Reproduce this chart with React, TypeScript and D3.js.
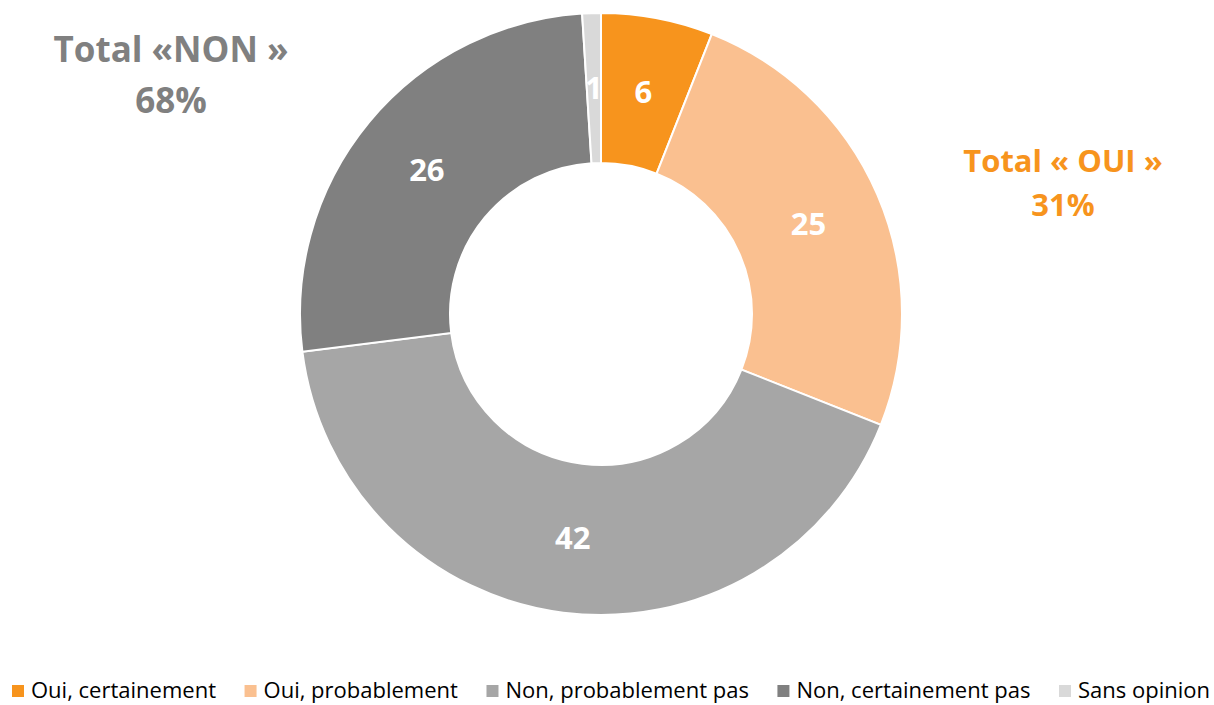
import React, { useEffect, useRef } from "react";
import * as d3 from "d3";

const categories = [
  "Oui, certainement",
  "Oui, probablement",
  "Non, probablement pas",
  "Non, certainement pas",
  "Sans opinion",
];
const values = [6, 25, 42, 26, 1];
const colors = ["#F7941D", "#FAC090", "#A6A6A6", "#808080", "#D9D9D9"];
const totalNon = ["Total «NON »", "68%"];
const totalOui = ["Total « OUI »", "31%"];

const W = 1214;
const H = 705;
const FONT = "'Open Sans', sans-serif";

export default function App() {
  const ref = useRef<SVGSVGElement>(null);

  useEffect(() => {
    const svg = d3.select(ref.current);
    svg.selectAll("*").remove();

    const cx = 601;
    const cy = 314;
    const outer = 301;
    const inner = 151;

    const pie = d3.pie<number>().sort(null).value((d) => d);
    const arcs = pie(values);
    const arc = d3.arc<d3.PieArcDatum<number>>().innerRadius(inner).outerRadius(outer);

    const g = svg.append("g").attr("transform", `translate(${cx},${cy})`);
    g.selectAll("path")
      .data(arcs)
      .enter()
      .append("path")
      .attr("d", arc)
      .attr("fill", (d, i) => colors[i])
      .attr("stroke", "#fff")
      .attr("stroke-width", 2);

    g.selectAll("text")
      .data(arcs)
      .enter()
      .append("text")
      .attr("x", (d) => arc.centroid(d)[0])
      .attr("y", (d) => arc.centroid(d)[1])
      .attr("dy", "0.36em")
      .attr("text-anchor", "middle")
      .style("font-family", FONT)
      .style("font-weight", "bold")
      .style("font-size", "31px")
      .style("fill", "#fff")
      .text((d) => d.data);

    // totals
    const non = svg.append("text")
      .attr("text-anchor", "middle")
      .style("font-family", FONT)
      .style("font-weight", "bold")
      .style("font-size", "35px")
      .style("fill", "#808080");
    non.append("tspan").attr("x", 171).attr("y", 62).text(totalNon[0]);
    non.append("tspan").attr("x", 171).attr("y", 113).text(totalNon[1]);

    const oui = svg.append("text")
      .attr("text-anchor", "middle")
      .style("font-family", FONT)
      .style("font-weight", "bold")
      .style("font-size", "31px")
      .style("fill", "#F7941D");
    oui.append("tspan").attr("x", 1063).attr("y", 172).text(totalOui[0]);
    oui.append("tspan").attr("x", 1063).attr("y", 216).text(totalOui[1]);

    // legend
    const leg = svg.append("g");
    const items = categories.map((c, i) => {
      const rect = leg.append("rect")
        .attr("y", 685)
        .attr("width", 12)
        .attr("height", 12)
        .attr("fill", colors[i]);
      const t = leg.append("text")
        .attr("y", 698)
        .style("font-family", FONT)
        .style("font-size", "22px")
        .style("fill", "#000")
        .text(c);
      const w = (t.node() as SVGTextElement).getComputedTextLength();
      return { rect, t, w };
    });
    const start = 12;
    const end = 1210;
    const used = d3.sum(items, (d) => 19 + d.w);
    const gap = (end - start - used) / (items.length - 1);
    let x = start;
    items.forEach((d) => {
      d.rect.attr("x", x);
      d.t.attr("x", x + 19);
      x += 19 + d.w + gap;
    });
  }, []);

  return (
    <svg
      ref={ref}
      width={W}
      height={H}
      style={{ position: "absolute", left: 0, top: 0, background: "#fff" }}
    />
  );
}
